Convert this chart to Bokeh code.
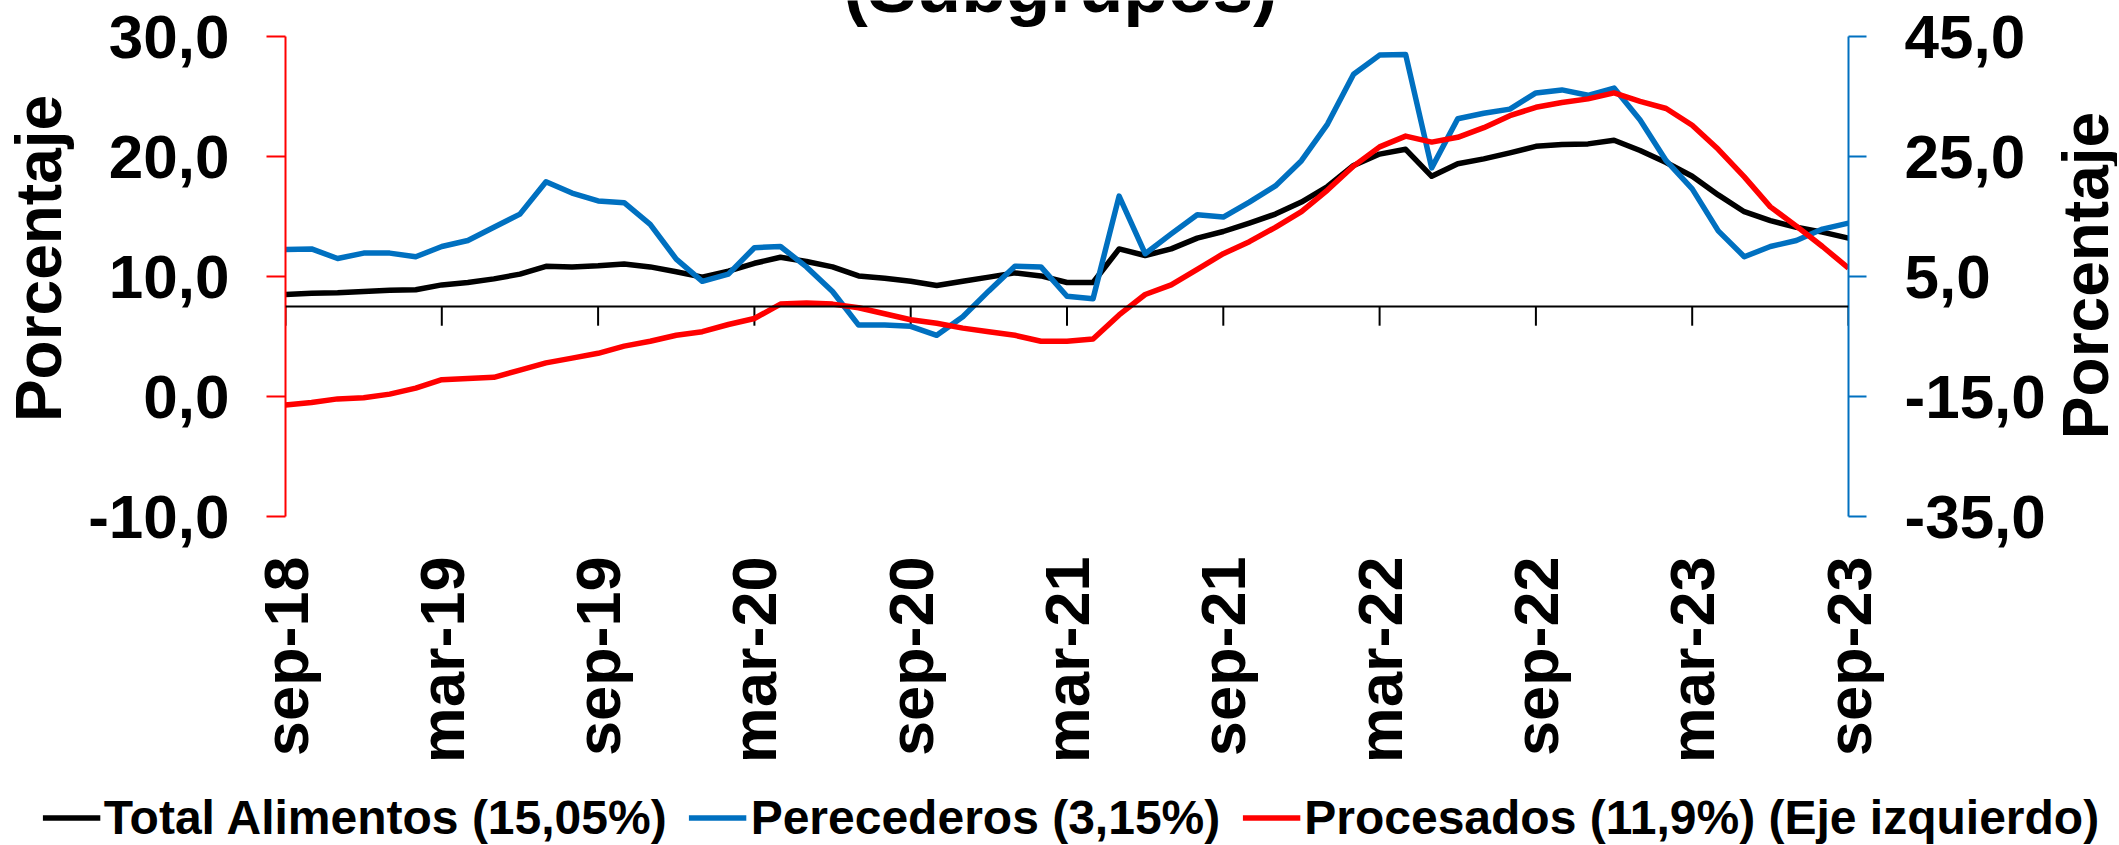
import math
from bokeh.plotting import figure
from bokeh.layouts import column, row
from bokeh.models import (Range1d, LinearAxis, FixedTicker, CustomJSTickFormatter,
                          Span, Legend, LegendItem, Label)
from bokeh.embed import file_html
from bokeh.resources import INLINE

# ---------------- data ----------------
x_labels = ["sep-18", "mar-19", "sep-19", "mar-20", "sep-20", "mar-21",
            "sep-21", "mar-22", "sep-22", "mar-23", "sep-23"]
months = list(range(61))  # monthly, sep-18 .. sep-23

# right axis
total_alimentos = [2.0, 2.2, 2.3, 2.5, 2.7, 2.8, 3.6, 4.0, 4.6, 5.4,
                   6.7, 6.6, 6.8, 7.1, 6.6, 5.8, 4.9, 5.9, 7.2, 8.2,
                   7.5, 6.6, 5.1, 4.7, 4.2, 3.5, 4.2, 4.9, 5.6, 5.1,
                   4.0, 4.0, 9.6, 8.5, 9.6, 11.4, 12.5, 13.9, 15.4, 17.4,
                   20.0, 23.5, 25.4, 26.2, 21.7, 23.8, 24.6, 25.6, 26.7, 27.0,
                   27.1, 27.7, 26.0, 24.0, 21.7, 18.6, 15.8, 14.3, 13.2, 12.4,
                   11.4]
# right axis
perecederos = [9.5, 9.6, 8.0, 8.9, 8.9, 8.3, 10.0, 11.0, 13.2, 15.4,
               20.8, 18.9, 17.6, 17.3, 13.7, 7.9, 4.2, 5.4, 9.8, 10.0,
               6.6, 2.5, -3.1, -3.1, -3.3, -4.8, -1.7, 2.6, 6.7, 6.6,
               1.7, 1.3, 18.4, 8.8, 12.1, 15.3, 14.9, 17.4, 20.1, 24.3,
               30.4, 38.7, 41.9, 42.0, 23.1, 31.3, 32.2, 32.9, 35.6, 36.1,
               35.2, 36.4, 31.1, 24.3, 19.6, 12.6, 8.3, 10.0, 11.0, 12.9,
               13.9]
# left axis
procesados = [-0.7, -0.5, -0.2, -0.1, 0.2, 0.7, 1.4, 1.5, 1.6, 2.2,
              2.8, 3.2, 3.6, 4.2, 4.6, 5.1, 5.4, 6.0, 6.5, 7.7,
              7.8, 7.7, 7.4, 6.9, 6.4, 6.1, 5.7, 5.4, 5.1, 4.6,
              4.6, 4.8, 6.8, 8.5, 9.3, 10.6, 11.9, 12.9, 14.1, 15.4,
              17.2, 19.2, 20.8, 21.7, 21.2, 21.6, 22.4, 23.4, 24.1, 24.5,
              24.8, 25.3, 24.6, 24.0, 22.6, 20.6, 18.3, 15.8, 14.2, 12.5,
              10.7]

left_ticks = [-10, 0, 10, 20, 30]
right_ticks = [-35, -15, 5, 25, 45]
series_labels = ["Total Alimentos (15,05%)", "Perecederos (3,15%)",
                 "Procesados (11,9%) (Eje izquierdo)"]
title_text = "(Subgrupos)"
axis_title = "Porcentaje"

# ---------------- styles ----------------
FONT = "Liberation Sans"
BLUE = "#0070C0"
RED = "#FF0000"
BLACK = "#000000"
LW = 5.5

W = 2117
H_MAIN = 780
H_LEG = 64
W_SIDE = 60
W_MAIN = W - W_SIDE

FRAME_TOP_GAP = 36      # px between canvas top and the top tick
FRAME_BOTTOM = 516      # px from canvas top to the bottom tick
PX_PER_UNIT = (FRAME_BOTTOM - FRAME_TOP_GAP) / (left_ticks[-1] - left_ticks[0])
left_top = left_ticks[-1] + FRAME_TOP_GAP / PX_PER_UNIT
# right axis maps linearly onto the left one
r_scale = (right_ticks[-1] - right_ticks[0]) / (left_ticks[-1] - left_ticks[0])
right_top = right_ticks[0] + (left_top - left_ticks[0]) * r_scale


def bare(fig):
    if "frame_align" in fig.properties():
        fig.frame_align = False
    fig.outline_line_color = None
    fig.xgrid.visible = False
    fig.ygrid.visible = False
    fig.border_fill_color = "white"
    fig.background_fill_color = "white"


# ---------------- main chart ----------------
p = figure(width=W_MAIN, height=H_MAIN,
           x_range=Range1d(months[0], months[-1]),
           y_range=Range1d(left_ticks[0], left_top),
           output_backend="svg", toolbar_location=None,
           min_border_left=284, min_border_right=W_MAIN - 1848,
           min_border_top=0, min_border_bottom=H_MAIN - FRAME_BOTTOM)
p.extra_y_ranges = {"right": Range1d(right_ticks[0], right_top)}
p.outline_line_color = None
p.xgrid.visible = False
p.ygrid.visible = False
p.background_fill_color = "white"
p.border_fill_color = "white"

code = "return tick.toFixed(1).replace('.', ',');"


def style_y(ax, color, standoff, tick_out):
    ax.axis_line_color = color
    ax.axis_line_width = 2
    ax.major_tick_line_color = color
    ax.major_tick_line_width = 2
    ax.major_tick_out = tick_out
    ax.major_tick_in = 0
    ax.minor_tick_out = 0
    ax.minor_tick_in = 0
    ax.major_label_text_font = FONT
    ax.major_label_text_font_style = "bold"
    ax.major_label_text_font_size = "62px"
    ax.major_label_text_color = BLACK
    ax.major_label_standoff = standoff


ya = p.yaxis[0]
ya.ticker = FixedTicker(ticks=left_ticks)
ya.formatter = CustomJSTickFormatter(code=code)
ya.bounds = (left_ticks[0], left_ticks[-1])
style_y(ya, RED, 37, 19)
ya.axis_label = axis_title
ya.axis_label_text_font = FONT
ya.axis_label_text_font_style = "bold"
ya.axis_label_text_font_size = "64px"
ya.axis_label_text_color = BLACK
ya.axis_label_standoff = 10

ra = LinearAxis(y_range_name="right")
ra.ticker = FixedTicker(ticks=right_ticks)
ra.formatter = CustomJSTickFormatter(code=code)
ra.bounds = (right_ticks[0], right_ticks[-1])
style_y(ra, BLUE, 38, 18)
p.add_layout(ra, "right")

x_tick_pos = [months[0] + 6 * i for i in range(len(x_labels))]
xa = p.xaxis[0]
xa.ticker = FixedTicker(ticks=x_tick_pos)
xa.major_label_overrides = {t: lab for t, lab in zip(x_tick_pos, x_labels)}
xa.major_label_orientation = math.pi / 2
xa.axis_line_color = None
xa.major_tick_out = 0
xa.major_tick_in = 0
xa.minor_tick_out = 0
xa.minor_tick_in = 0
xa.major_label_text_font = FONT
xa.major_label_text_font_style = "bold"
xa.major_label_text_font_size = "63px"
xa.major_label_text_color = BLACK
xa.major_label_standoff = 40

# zero line of the right axis with its tick marks
p.add_layout(Span(location=0, dimension="width", y_range_name="right",
                  line_color=BLACK, line_width=2))
p.segment(x0=x_tick_pos, x1=x_tick_pos, y0=[0] * len(x_tick_pos),
          y1=[-3.2] * len(x_tick_pos), y_range_name="right",
          line_color=BLACK, line_width=2)

p.line(months, total_alimentos, y_range_name="right", line_color=BLACK,
       line_width=LW, line_join="round")
p.line(months, perecederos, y_range_name="right", line_color=BLUE,
       line_width=LW, line_join="round")
p.line(months, procesados, line_color=RED, line_width=LW, line_join="round")

# title: only its lower part is inside the picture, as in the original
TITLE_BASELINE_PX = 11          # from the canvas top
TITLE_MID_ABOVE_BASE = 25       # px, middle of the 73px text above its baseline
p.add_layout(Label(x=29.75,
                   y=left_ticks[-1] + (FRAME_TOP_GAP - TITLE_BASELINE_PX
                                       + TITLE_MID_ABOVE_BASE) / PX_PER_UNIT,
                   text=title_text, text_align="center", text_baseline="middle",
                   text_font=FONT, text_font_style="bold",
                   text_font_size="73px", text_color=BLACK))

# ---------------- right axis title strip ----------------
sfig = figure(width=W_SIDE, height=H_MAIN, x_range=Range1d(0, W_SIDE),
              y_range=Range1d(0, H_MAIN), x_axis_type=None, y_axis_type=None,
              output_backend="svg", toolbar_location=None,
              min_border_left=0, min_border_right=0,
              min_border_top=0, min_border_bottom=0)
bare(sfig)
sfig.add_layout(Label(x=28, y=H_MAIN - 275, text=axis_title,
                      angle=math.pi / 2, text_align="center", text_baseline="middle",
                      text_font=FONT, text_font_style="bold",
                      text_font_size="64px", text_color=BLACK))

# ---------------- legend strip ----------------
leg = figure(width=W, height=H_LEG, x_range=Range1d(0, 1), y_range=Range1d(0, 1),
             x_axis_type=None, y_axis_type=None,
             output_backend="svg", toolbar_location=None,
             min_border_left=24, min_border_right=0,
             min_border_top=10, min_border_bottom=0)
bare(leg)

colors = [BLACK, BLUE, RED]
series = [total_alimentos, perecederos, procesados]
items = []
for lab, col, ys in zip(series_labels, colors, series):
    # same series, drawn outside this strip's view; only the legend swatch shows
    rr = leg.line(x=[m + 10 for m in months], y=ys, line_color=col, line_width=LW)
    items.append(LegendItem(label=lab, renderers=[rr]))

legend = Legend(items=items, orientation="horizontal", location="center",
                label_text_font=FONT, label_text_font_style="bold",
                label_text_font_size="48px", label_text_color=BLACK,
                glyph_width=58, glyph_height=40, label_height=40,
                label_standoff=4, spacing=22, padding=0, margin=0,
                border_line_color=None, background_fill_alpha=0)
leg.add_layout(legend)

layout = column(row(p, sfig), leg)

html = file_html(layout, INLINE)
open("out.html", "w").write(html)
